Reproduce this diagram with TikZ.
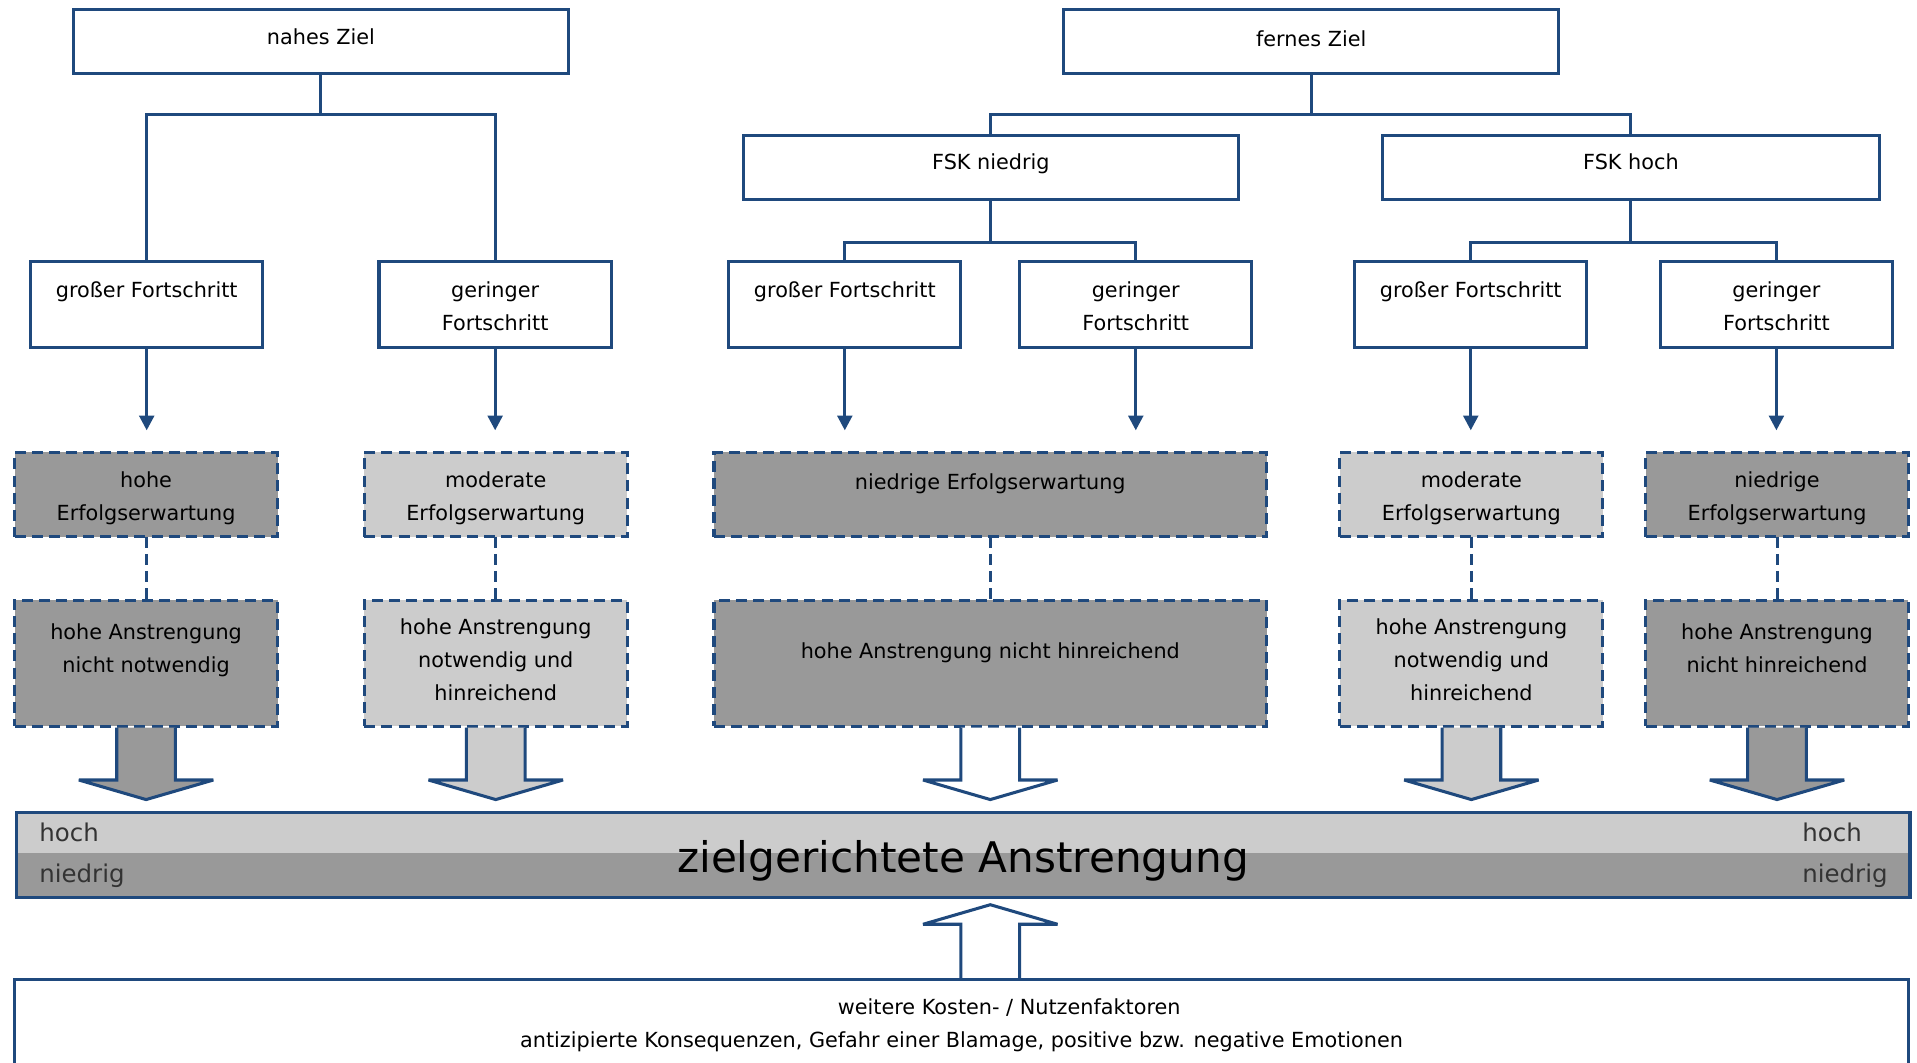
\documentclass[tikz,border=0pt]{standalone}
\usepackage{fontspec}
\setmainfont{DejaVu Sans}
\usetikzlibrary{arrows.meta}
\definecolor{bl}{RGB}{31,73,125}
\definecolor{dk}{RGB}{153,153,153}
\definecolor{lt}{RGB}{204,204,204}
\newcommand\bt[4]{\parbox[c][#2pt][t]{#1pt}{\centering\rule{0pt}{#3pt}#4\par}}
\newcommand\blkdown[2]{\draw[blk, fill=#2] (#1) ++(-24,1.25) -- ++(0,42.75) -- ++(-31,0) -- ++(55,16) -- ++(55,-16) -- ++(-31,0) -- ++(0,-42.75);}
\tikzset{
  box/.style={draw=bl, line width=2.5pt, fill=white, inner sep=0pt, outer sep=0pt, anchor=north west, font=\fontsize{17}{27}\selectfont},
  dbox/.style={box, dash pattern=on 9pt off 5pt},
  ln/.style={draw=bl, line width=2.5pt},
  arr/.style={ln, -{Triangle[length=12pt,width=12pt]}, shorten >=18pt},
  dln/.style={ln, dash pattern=on 9pt off 5pt},
  blk/.style={draw=bl, line width=2.5pt, line join=miter, miter limit=1.5},
  lbl/.style={anchor=base west, inner sep=0pt, font=\fontsize{20}{24}\selectfont, text=black!80},
}
\begin{document}
\begin{tikzpicture}[x=1pt,y=-1pt]
\useasboundingbox (0,0) rectangle (1568,869);
\clip (0,0) rectangle (1568,869);

% top level
\node[box] (nah)  at (60,8)   {\bt{405}{52}{28}{nahes Ziel}};
\node[box] (fern) at (870,8)  {\bt{405}{52}{30}{fernes Ziel}};
\node[box] (fskn) at (608,111) {\bt{405}{52}{28}{FSK niedrig}};
\node[box] (fskh) at (1131,111) {\bt{406}{52}{28}{FSK hoch}};

% progress boxes
\node[box] (lg) at (25,214)   {\bt{190}{70}{29}{großer Fortschritt}};
\node[box] (lk) at (310,214)  {\bt{190}{70}{29}{geringer\\Fortschritt}};
\node[box] (mg) at (596,214)  {\bt{190}{70}{29}{großer Fortschritt}};
\node[box] (mk) at (834,214)  {\bt{190}{70}{29}{geringer\\Fortschritt}};
\node[box] (rg) at (1108,214) {\bt{190}{70}{29}{großer Fortschritt}};
\node[box] (rk) at (1358,214) {\bt{190}{70}{29}{geringer\\Fortschritt}};

% tree connectors
\draw[ln] (nah.south) -- ++(0,34) -| (lg.north);
\draw[ln] (nah.south) -- ++(0,34) -| (lk.north);
\draw[ln] (fern.south) -- ++(0,34) -| (fskn.north);
\draw[ln] (fern.south) -- ++(0,34) -| (fskh.north);
\draw[ln] (fskn.south) -- ++(0,35) -| (mg.north);
\draw[ln] (fskn.south) -- ++(0,35) -| (mk.north);
\draw[ln] (fskh.south) -- ++(0,35) -| (rg.north);
\draw[ln] (fskh.south) -- ++(0,35) -| (rk.north);

% expectation boxes
\node[dbox, fill=dk] (e1) at (12,370)   {\bt{215}{69}{29}{hohe\\Erfolgserwartung}};
\node[dbox, fill=lt] (e2) at (298,370)  {\bt{215}{69}{29}{moderate\\Erfolgserwartung}};
\node[dbox, fill=dk] (e3) at (584,370)  {\bt{452}{69}{30}{niedrige Erfolgserwartung}};
\node[dbox, fill=lt] (e4) at (1096,370) {\bt{215}{69}{29}{moderate\\Erfolgserwartung}};
\node[dbox, fill=dk] (e5) at (1346,370) {\bt{215}{69}{29}{niedrige\\Erfolgserwartung}};

% effort boxes
\node[dbox, fill=dk] (f1) at (12,491)   {\bt{215}{103}{32}{hohe Anstrengung\\nicht notwendig}};
\node[dbox, fill=lt] (f2) at (298,491)  {\bt{215}{103}{28}{hohe Anstrengung\\notwendig und\\hinreichend}};
\node[dbox, fill=dk] (f3) at (584,491)  {\bt{452}{103}{48}{hohe Anstrengung nicht hinreichend}};
\node[dbox, fill=lt] (f4) at (1096,491) {\bt{215}{103}{28}{hohe Anstrengung\\notwendig und\\hinreichend}};
\node[dbox, fill=dk] (f5) at (1346,491) {\bt{215}{103}{32}{hohe Anstrengung\\nicht hinreichend}};

% arrows progress -> expectation
\draw[arr] (lg.south) -- (lg.south |- e1.north);
\draw[arr] (lk.south) -- (lk.south |- e2.north);
\draw[arr] (mg.south) -- (mg.south |- e3.north);
\draw[arr] (mk.south) -- (mk.south |- e3.north);
\draw[arr] (rg.south) -- (rg.south |- e4.north);
\draw[arr] (rk.south) -- (rk.south |- e5.north);

% dashed links
\draw[dln] (e1.south) -- (f1.north);
\draw[dln] (e2.south) -- (f2.north);
\draw[dln] (e3.south) -- (f3.north);
\draw[dln] (e4.south) -- (f4.north);
\draw[dln] (e5.south) -- (f5.north);

% effort bar
\node[draw=bl, line width=2.5pt, inner sep=0pt, anchor=north west,
      minimum width=1549pt, minimum height=70pt,
      text height=30pt, text depth=2pt,
      font=\fontsize{34.5}{40}\selectfont,
      path picture={
        \fill[lt] (path picture bounding box.north west) rectangle ([yshift=1.5pt]path picture bounding box.east);
        \fill[dk] ([yshift=1.5pt]path picture bounding box.west) rectangle (path picture bounding box.south east);
      }] (bar) at (12,663) {zielgerichtete Anstrengung};
\node[lbl] (hl) at (32,688) {hoch};
\node[lbl] (nl) at (32,722) {niedrig};
\node[lbl] (hr) at (1474,688) {hoch};
\node[lbl] (nr) at (1474,722) {niedrig};

% block arrows
\blkdown{f1.south}{dk}
\blkdown{f2.south}{lt}
\blkdown{f3.south}{white}
\blkdown{f4.south}{lt}
\blkdown{f5.south}{dk}

% bottom box
\node[box] (bot) at (12,801) {\bt{1549}{100}{29}{\hspace*{78pt}weitere Kosten- / Nutzenfaktoren\\antizipierte Konsequenzen, Gefahr einer Blamage, positive bzw. negative Emotionen}};
\draw[blk, fill=white] (bot.north -| e3.south) ++(-24,-1.25) -- ++(0,-43.75) -- ++(-31,0) -- ++(55,-16) -- ++(55,16) -- ++(-31,0) -- ++(0,43.75);
\end{tikzpicture}
\end{document}
